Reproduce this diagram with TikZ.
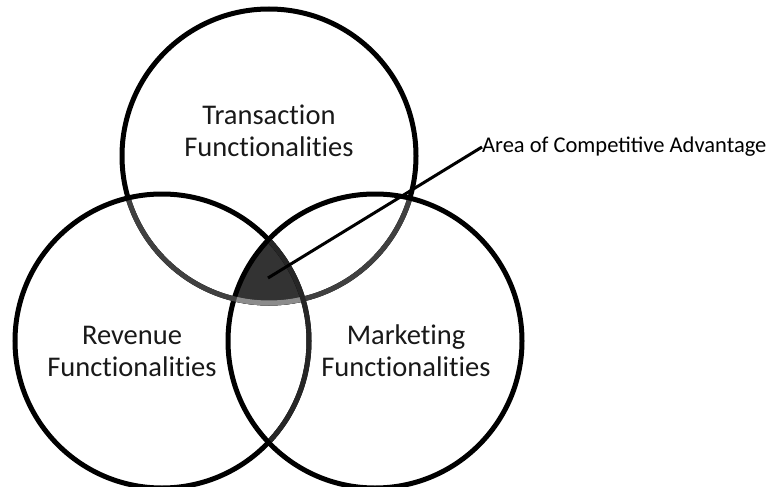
\documentclass[tikz,border=0pt]{standalone}
\usepackage{fontspec}
\setmainfont{Carlito}
\usetikzlibrary{calc}
\newcommand{\ring}[1]{\draw[ringline] (#1) circle (147pt);}
\tikzset{
  ringline/.style={line width=5pt, draw=black},
  setlabel/.style={align=center, font=\addfontfeatures{Ligatures=NoCommon}\fontsize{28.5}{32}\selectfont, text=black!90},
  callout/.style={font=\fontsize{22.5}{26}\selectfont, text=black, anchor=west, inner sep=0pt}
}
\begin{document}
\begin{tikzpicture}[x=1pt, y=-1pt]
        \useasboundingbox (0,0) rectangle (774,487);
        % circle centres
        \coordinate (ctop) at (269,156);
        \coordinate (cleft) at (162,341);
        \coordinate (cright) at (375,341);
        % shaded common area
        \begin{scope}
            \clip (cleft) circle (147pt);
            \clip (cright) circle (147pt);
            \fill[black!80] (ctop) circle (147pt);
        \end{scope}
        % rings
        \ring{ctop}
        \ring{cleft}
        \ring{cright}
        % greyish inner arcs
        \begin{scope}
            \clip (cleft) circle (144.5pt);
            \draw[ringline, draw=black!75] (ctop) circle (147pt);
        \end{scope}
        \begin{scope}
            \clip (cright) circle (144.5pt);
            \draw[ringline, draw=black!75] (ctop) circle (147pt);
        \end{scope}
        \begin{scope}
            \clip (cleft) circle (144.5pt);
            \clip (cright) circle (144.5pt);
            \draw[ringline, draw=black!45] (ctop) circle (147pt);
        \end{scope}
        \begin{scope}
            \clip (cright) circle (144.5pt);
            \draw[ringline, draw=black!85] (cleft) circle (147pt);
        \end{scope}
        % labels
        \node[setlabel] (trans) at (269,131) {Transaction\\Functionalities};
        \node[setlabel] (rev) at (132,351) {Revenue\\Functionalities};
        \node[setlabel] (mark) at (406,351) {Marketing\\Functionalities};
        \node[callout] (area) at (482,147) {Area of Competitive Advantage};
        \coordinate (core) at (268,278);
        \draw[line width=3pt] (area.west) -- (core);
    \end{tikzpicture}
\end{document}
